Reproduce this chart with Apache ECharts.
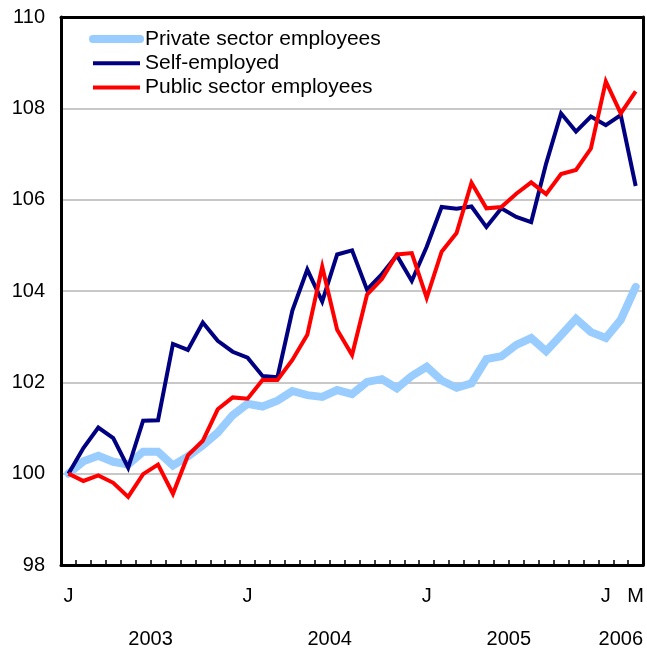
<!DOCTYPE html>
<html><head><meta charset="utf-8">
<script src="https://cdn.jsdelivr.net/npm/echarts@6/dist/echarts.min.js"></script>
<style>html,body{margin:0;padding:0;background:#fff}#c{width:647px;height:649px}</style>
</head><body><div id="c"></div>
<script>
const monthLetters = ['J','F','M','A','M','J','J','A','S','O','N','D'];
const years = [2003, 2004, 2005, 2006];
const shownMonthIdx = [0, 12, 24, 36, 38];
const yearLabelIdx = [6, 18, 30, 37];
const private_ = [100.00,100.27,100.39,100.26,100.20,100.48,100.48,100.18,100.38,100.62,100.90,101.28,
  101.53,101.47,101.60,101.81,101.72,101.68,101.83,101.74,102.01,102.07,101.87,102.14,
  102.34,102.04,101.88,101.98,102.51,102.57,102.82,102.97,102.68,103.03,103.39,103.10,
  102.97,103.37,104.09];
const selfEmployed = [100.00,100.56,101.01,100.78,100.13,101.16,101.17,102.84,102.71,103.31,102.91,102.67,
  102.54,102.14,102.11,103.57,104.47,103.77,104.80,104.89,104.03,104.37,104.78,104.22,
  104.97,105.84,105.80,105.85,105.40,105.81,105.62,105.51,106.79,107.89,107.49,107.82,
  107.63,107.85,106.30];
const publicSector = [100.00,99.84,99.96,99.80,99.49,99.99,100.20,99.56,100.40,100.72,101.41,101.67,
  101.64,102.05,102.05,102.49,103.04,104.53,103.15,102.60,103.92,104.26,104.80,104.83,
  103.85,104.86,105.27,106.37,105.81,105.84,106.13,106.38,106.12,106.56,106.65,107.12,
  108.59,107.89,108.37];
const seriesNames = ['Private sector employees','Self-employed','Public sector employees'];

const categories = [];
for (let i = 0; i < private_.length; i++) {
  categories.push(monthLetters[i % 12] + ' ' + (years[0] + Math.floor(i / 12)));
}
const font = 'Arial, "Liberation Sans", sans-serif';
const chart = echarts.init(document.getElementById('c'), null, {renderer: 'canvas'});
chart.setOption({
  animation: false,
  backgroundColor: '#fff',
  grid: {left: 61, right: 3, top: 17, bottom: 84, show: false},
  legend: {
    left: 84, top: 23.5, orient: 'vertical', itemWidth: 47, itemHeight: 14, itemGap: 3.2,
    textStyle: {fontFamily: font, fontSize: 21, color: '#000'},
    itemStyle: {opacity: 0},
    lineStyle: {width: 'inherit'},
    data: seriesNames
  },
  xAxis: [
    {type: 'category', data: categories, boundaryGap: true, position: 'bottom',
     axisLine: {show: true, lineStyle: {color: '#000', width: 3}},
     axisTick: {show: true, inside: true, interval: 0, length: 5, lineStyle: {color: '#000', width: 1.5}},
     axisLabel: {interval: (i) => shownMonthIdx.includes(i), formatter: (v) => v.split(' ')[0],
       fontFamily: font, fontSize: 20, color: '#000', margin: 21},
     splitLine: {show: false}},
    {type: 'category', data: categories, boundaryGap: true, position: 'bottom', offset: 40,
     axisLine: {show: false}, axisTick: {show: false},
     axisLabel: {interval: (i) => yearLabelIdx.includes(i),
       formatter: (v, i) => i === 37 ? v.split(' ')[1] : '{s|' + v.split(' ')[1] + '}',
       rich: {s: {fontFamily: font, fontSize: 20, color: '#000', padding: [0, 15, 0, 0]}},
       fontFamily: font, fontSize: 20, color: '#000', margin: 24}},
    {type: 'category', data: categories, boundaryGap: true, position: 'top',
     axisLine: {show: true, lineStyle: {color: '#000', width: 3}},
     axisTick: {show: false}, axisLabel: {show: false}}
  ],
  yAxis: [
    {type: 'value', min: 98, max: 110, interval: 2, position: 'left',
     axisLine: {show: true, lineStyle: {color: '#000', width: 3}},
     axisTick: {show: false},
     axisLabel: {fontFamily: font, fontSize: 20, color: '#000', margin: 16},
     splitLine: {show: true, lineStyle: {color: '#c8c8c8', width: 2}}},
    {type: 'value', min: 98, max: 110, interval: 2, position: 'right',
     axisLine: {show: true, lineStyle: {color: '#000', width: 3}},
     axisTick: {show: false}, axisLabel: {show: false}, splitLine: {show: false}}
  ],
  series: [
    {name: seriesNames[0], type: 'line', data: private_, symbol: 'none', color: '#99ccff',
     lineStyle: {color: '#99ccff', width: 8, cap: 'round', join: 'miter'}, z: 2},
    {name: seriesNames[1], type: 'line', data: selfEmployed, symbol: 'none', color: '#000080',
     lineStyle: {color: '#000080', width: 4, join: 'miter'}, z: 3},
    {name: seriesNames[2], type: 'line', data: publicSector, symbol: 'none', color: '#ff0000',
     lineStyle: {color: '#ff0000', width: 4, join: 'miter'}, z: 4}
  ]
});
</script></body></html>
